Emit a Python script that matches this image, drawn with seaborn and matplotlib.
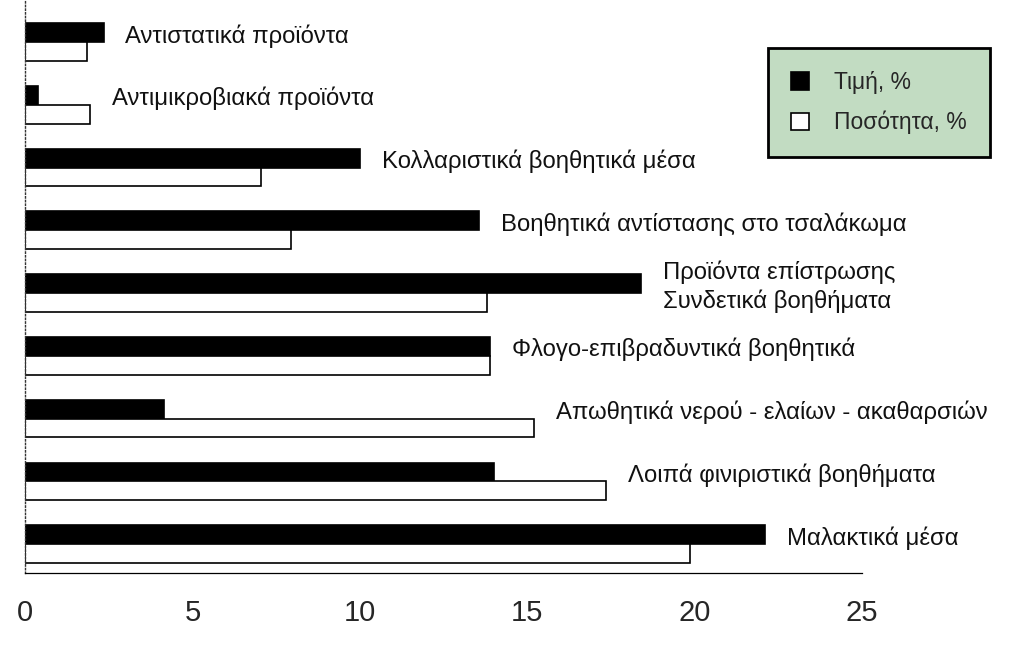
import numpy as np
import matplotlib
matplotlib.use('Agg')
import matplotlib.pyplot as plt
import pandas as pd
import seaborn as sns

# data
categories = ['Αντιστατικά προϊόντα',
              'Αντιμικροβιακά προϊόντα',
              'Κολλαριστικά βοηθητικά μέσα',
              'Βοηθητικά αντίστασης στο τσαλάκωμα',
              'Προϊόντα επίστρωσης\nΣυνδετικά βοηθήματα',
              'Φλογο-επιβραδυντικά βοηθητικά',
              'Απωθητικά νερού - ελαίων - ακαθαρσιών',
              'Λοιπά φινιριστικά βοηθήματα',
              'Μαλακτικά μέσα']
price = [2.35, 0.4, 10.0, 13.55, 18.4, 13.9, 4.15, 14.0, 22.1]
quantity = [1.85, 1.95, 7.05, 7.95, 13.8, 13.9, 15.2, 17.35, 19.85]
series_names = ['Τιμή, %', 'Ποσότητα, %']
xticks = [0, 5, 10, 15, 20, 25]

df = pd.DataFrame({
    'cat': categories * 2,
    'value': price + quantity,
    'series': [series_names[0]] * len(categories) + [series_names[1]] * len(categories),
})

sns.set_style('white')
plt.rcParams['font.family'] = ['Liberation Sans', 'DejaVu Sans']

fig = plt.figure(figsize=(10.24, 6.47), dpi=100)
ax = fig.add_axes([0.0244, 0.1144, 0.8176, 0.8856])

sns.barplot(data=df, y='cat', x='value', hue='series', orient='h',
            palette=['black', 'white'], edgecolor='black', linewidth=1.2,
            width=0.6, dodge=True, ax=ax, saturation=1)

# category labels to the right of each pair of bars
for i, name in enumerate(categories):
    top = max(price[i], quantity[i])
    ax.text(top + 0.65, i - 0.1, name, va='center', ha='left', fontsize=17.2,
            linespacing=1.3, color='#111111')

ax.set_xlim(0, 25)
ax.set_ylim(8.46, -0.67)
ax.set_xticks(xticks)
ax.set_xticklabels([str(t) for t in xticks], fontsize=21)
ax.set_yticks([])
ax.set_xlabel('')
ax.set_ylabel('')
ax.tick_params(axis='x', direction='out', length=5, width=0.8, color='black', pad=14)

for s in ['top', 'right']:
    ax.spines[s].set_visible(False)
ax.spines['bottom'].set_color('black')
ax.spines['bottom'].set_linewidth(0.9)
ax.spines['left'].set_color('#333333')
ax.spines['left'].set_linestyle(':')
ax.spines['left'].set_linewidth(1.0)

leg = ax.legend(loc='upper left', bbox_to_anchor=(0.75, 0.926),
                bbox_transform=fig.transFigure, fontsize=16.5,
                frameon=True, fancybox=False, borderpad=1.0,
                labelspacing=0.75, handlelength=0.8, handleheight=0.8,
                handletextpad=1.1, borderaxespad=0)
leg.get_frame().set_facecolor('#c2dcc2')
leg.get_frame().set_edgecolor('black')
leg.get_frame().set_linewidth(2)
leg.get_frame().set_alpha(1)

plt.savefig('out.png', dpi=100)
